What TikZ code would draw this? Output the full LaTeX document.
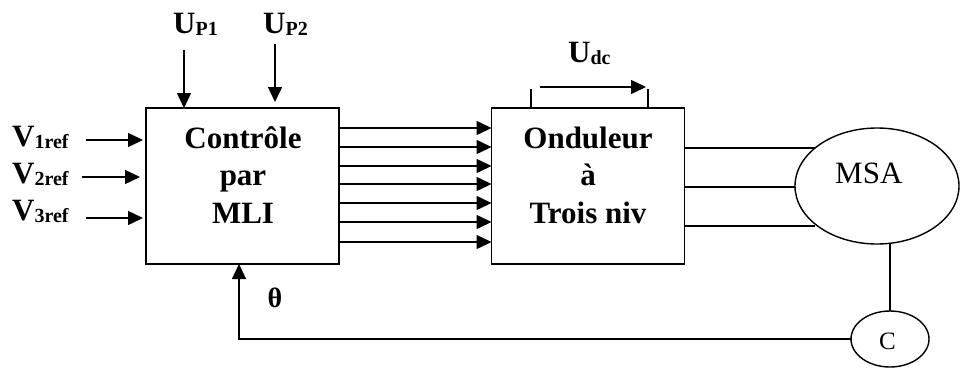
\documentclass[tikz,border=0pt]{standalone}
\usepackage{fontspec}
\setmainfont{Liberation Serif}
\usetikzlibrary{arrows.meta,shapes.geometric}
\newcommand{\sublab}[2]{{\fontsize{31}{31}\selectfont\bfseries #1}\raisebox{-2pt}{\fontsize{20}{20}\selectfont\bfseries #2}}
\begin{document}
\begin{tikzpicture}[x=1pt,y=-1pt,
  ln/.style={line width=1.4pt},
  arr/.style={line width=1.4pt,-{Triangle[length=15pt,width=14pt]}},
  box/.style={draw,line width=1.4pt,minimum width=193pt,minimum height=156pt,inner sep=0pt,outer sep=0pt},
  boxtext/.style={align=center,font=\fontsize{31}{37.5}\selectfont\bfseries},
  lab/.style={anchor=base west,inner sep=0pt},
  ell/.style={draw,ellipse,line width=1.4pt,inner sep=0pt,outer sep=0pt}]
\useasboundingbox (0,0) rectangle (960,367);

% blocks
\node[box] (ctrl) at (242.5,186) {};
\node[box] (inv) at (588,186) {};
\node[boxtext] (ctrltxt) at (243,175) {Contrôle\\par\\MLI};
\node[boxtext] (invtxt) at (588,175) {Onduleur\\à\\Trois niv};

\node[ell,minimum width=164pt,minimum height=116pt] (msa) at (877,186) {};
\node[lab,font=\fontsize{31}{31}\selectfont] (msatxt) at (835,183) {MSA};
\node[ell,minimum width=78pt,minimum height=56pt] (cc) at (890,339) {};
\node[lab,font=\fontsize{25}{25}\selectfont] (ctxt) at (879,349) {C};

% reference inputs
\node[lab] (v1) at (12,146) {\sublab{V}{1ref}};
\node[lab] (v2) at (12,183) {\sublab{V}{2ref}};
\node[lab] (v3) at (12,220) {\sublab{V}{3ref}};
\coordinate (v1s) at (86,140);
\coordinate (v2s) at (82,177);
\coordinate (v3s) at (86,218);
\draw[arr,shorten >=3pt] (v1s) -- (v1s -| ctrl.west);
\draw[arr,shorten >=6pt] (v2s) -- (v2s -| ctrl.west);
\draw[arr,shorten >=3pt] (v3s) -- (v3s -| ctrl.west);

% Up inputs
\node[lab] (up1) at (173,33) {\sublab{U}{P1}};
\node[lab] (up2) at (263,33) {\sublab{U}{P2}};
\coordinate (up1s) at (184,50);
\coordinate (up2s) at (275,44);
\draw[arr] (up1s) -- (up1s |- ctrl.north);
\draw[arr,shorten >=6pt] (up2s) -- (up2s |- ctrl.north);

% seven command signals
\foreach \yy in {128,147,166,184,203,222,242}{
  \draw[arr] (ctrl.east |- 0,\yy) -- (inv.west |- 0,\yy);
}

% Udc
\node[lab] (udc) at (568,62) {\sublab{U}{dc}};
\coordinate (t1) at (531,89);
\coordinate (t2) at (648,89);
\coordinate (ua) at (540,87);
\coordinate (ub) at (646,87);
\draw[ln] (t1) -- (t1 |- inv.north);
\draw[ln] (t2) -- (t2 |- inv.north);
\draw[arr] (ua) -- (ub);

% phases to machine
\draw[ln] (inv.east |- 0,148) -- (msa.149 |- 0,148);
\draw[ln] (inv.east |- 0,187) -- (msa.west |- 0,187);
\draw[ln] (inv.east |- 0,226) -- (msa.211 |- 0,226);

% sensor and feedback
\draw[ln] (cc.north |- msa.south) -- (cc.north);
\draw[arr] (cc.west) -| ([xshift=-3.5pt]ctrl.south);
\node[anchor=base,inner sep=0pt,font=\fontsize{28}{28}\selectfont\bfseries] (theta) at (275,307) {θ};
\end{tikzpicture}
\end{document}
